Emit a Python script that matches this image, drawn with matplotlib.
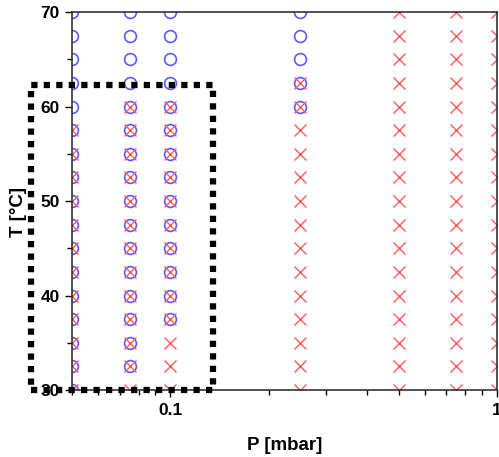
import numpy as np
import matplotlib.pyplot as plt
from matplotlib.patches import Rectangle

plt.rcParams['font.family'] = ['Liberation Sans', 'DejaVu Sans']
plt.rcParams['font.weight'] = 'bold'

# pressures (mbar) and temperatures (C) of the measurement grid
pressures = [0.05, 0.075, 0.1, 0.25, 0.5, 0.75, 1.0]
temps = [30, 32.5, 35, 37.5, 40, 42.5, 45, 47.5, 50, 52.5, 55, 57.5,
         60, 62.5, 65, 67.5, 70]

# lowest temperature with a circle at each pressure (None = no circles)
circle_tmin = [30, 32.5, 37.5, 60, None, None, None]
# highest temperature with a cross at each pressure
cross_tmax = [57.5, 60, 60, 62.5, 70, 70, 70]

fig = plt.figure(figsize=(4.99, 4.57), dpi=100)
ax = fig.add_axes([0.1443, 0.1466, 0.8517, 0.8271])

cx, cy, xx, xy = [], [], [], []
for p, cmin, xmax in zip(pressures, circle_tmin, cross_tmax):
    for t in temps:
        if cmin is not None and t >= cmin:
            cx.append(p)
            cy.append(t)
        if t <= xmax:
            xx.append(p)
            xy.append(t)

ax.plot(cx, cy, 'o', ms=8.5, mfc='none', mec='#5a5aff', mew=1.2, ls='none')
ax.plot(xx, xy, 'x', ms=8.5, mec='#ff5a5a', mew=1.0, ls='none')

ax.set_xscale('log')
ax.set_xlim(0.05, 1)
ax.set_ylim(30, 70)
ax.set_yticks([30, 40, 50, 60, 70])
ax.set_yticks([35, 45, 55, 65], minor=True)
ax.set_xticks([0.1, 1])
ax.set_xticklabels(['0.1', '1'])
ax.tick_params(which='major', direction='out', length=5, width=1,
               labelsize=12.5, pad=4, top=False, right=False)
ax.tick_params(which='minor', direction='out', length=3.5, width=1,
               top=False, right=False)
ax.tick_params(axis='x', which='minor', labelbottom=False)
for s in ax.spines.values():
    s.set_linewidth(1.2)
    s.set_color('#333333')

ax.set_xlabel('P [mbar]', fontsize=13.5, fontweight='bold')
ax.set_ylabel('T [°C]', fontsize=13.5, fontweight='bold')
ax.xaxis.set_label_coords(0.5, -0.125)
ax.yaxis.set_label_coords(-0.105, 0.47)

# dotted box marking the selected region
box = Rectangle((0.0375, 30), 0.1355 - 0.0375, 62.3 - 30, fill=False,
                ec='black', lw=4.5, ls=(0, (1, 1)), clip_on=False, zorder=5)
ax.add_patch(box)

plt.savefig('out.png', dpi=100)
